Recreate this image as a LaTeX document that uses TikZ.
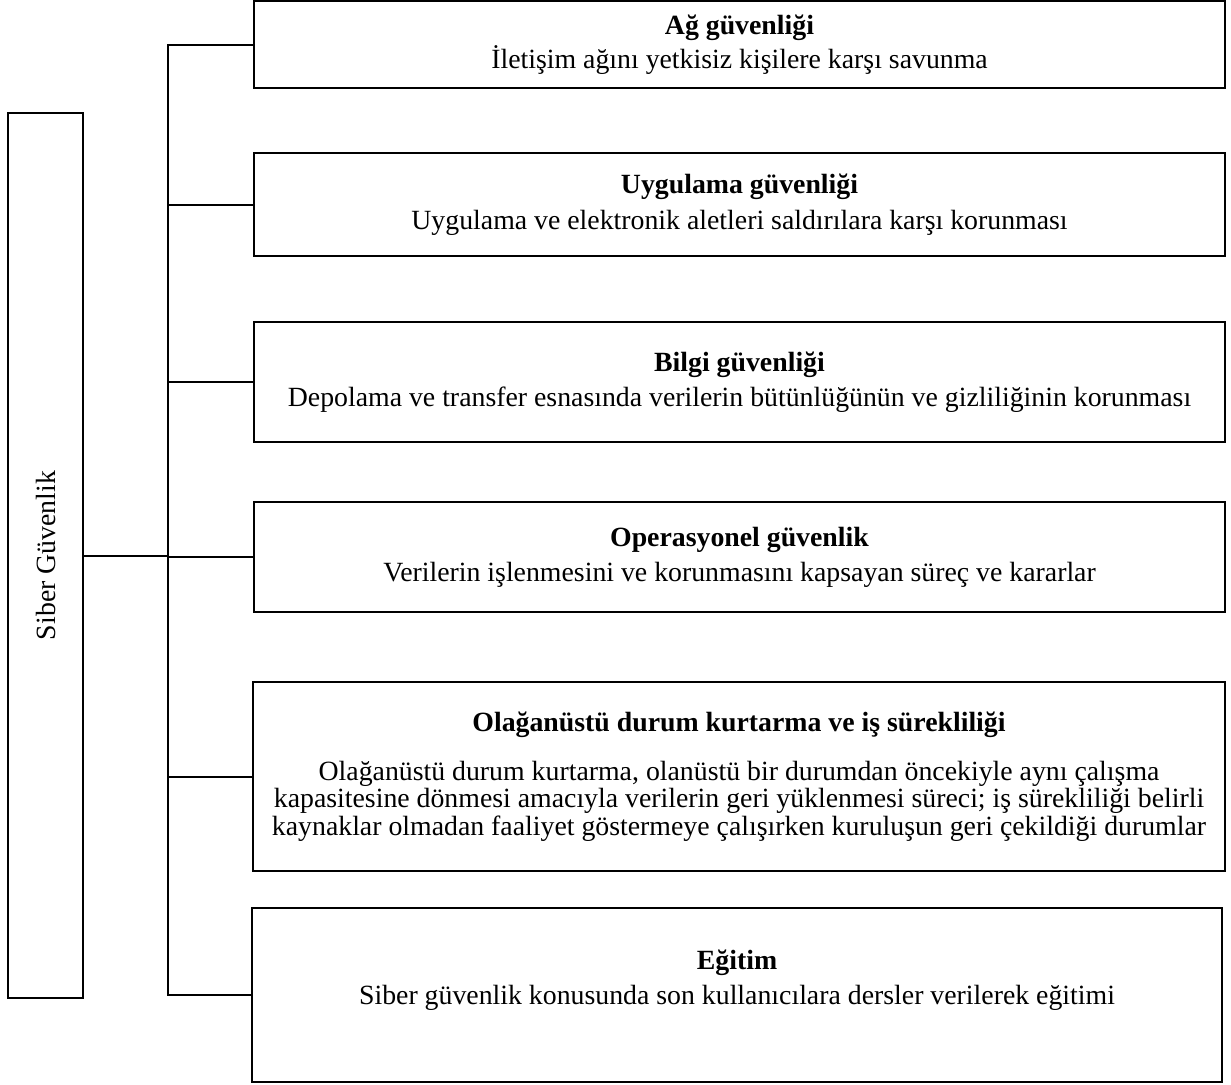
\documentclass[tikz,border=0pt]{standalone}
\usepackage{fontspec}
\setmainfont{Liberation Serif}
\usetikzlibrary{positioning}

\begin{document}
\begin{tikzpicture}[x=0.5pt,y=-0.5pt,
    kutu/.style={draw, line width=1pt, inner sep=0pt, align=center,
      minimum width=485.5pt, font=\fontsize{13.9}{13.8}\selectfont},
    baglanti/.style={line width=1pt}]
  \useasboundingbox (0,0) rectangle (1231,1084);
  % ana kutu
  \node[draw, line width=1pt, minimum width=37.5pt, minimum height=442.5pt] (siber) at (45.5,555.5) {};
  \node[rotate=90, font=\fontsize{13.9}{13.8}\selectfont] (siberyazi) at (siber.center) {Siber Güvenlik};
  % alt kutular
  \node[kutu, minimum height=43.5pt] (ag) at (739.5,44.5)
    {\textbf{Ağ güvenliği}\\[1.7pt] İletişim ağını yetkisiz kişilere karşı savunma};
  \node[kutu, minimum height=51.5pt] (uygulama) at (739.5,204.5)
    {\textbf{Uygulama güvenliği}\\[4.2pt] Uygulama ve elektronik aletleri saldırılara karşı korunması};
  \node[kutu, minimum height=60pt] (bilgi) at (739.5,382)
    {\textbf{Bilgi güvenliği}\\[3.7pt] Depolama ve transfer esnasında verilerin bütünlüğünün ve gizliliğinin korunması};
  \node[kutu, minimum height=55pt] (operasyonel) at (739.5,557)
    {\textbf{Operasyonel güvenlik}\\[3.7pt] Verilerin işlenmesini ve korunmasını kapsayan süreç ve kararlar};
  \node[kutu, minimum width=486pt, minimum height=94.5pt] (olaganustu) at (739,776.5)
    {\textbf{Olağanüstü durum kurtarma ve iş sürekliliği}\\[10.5pt]
     Olağanüstü durum kurtarma, olanüstü bir durumdan öncekiyle aynı çalışma\\
     kapasitesine dönmesi amacıyla verilerin geri yüklenmesi süreci; iş sürekliliği belirli\\
     kaynaklar olmadan faaliyet göstermeye çalışırken kuruluşun geri çekildiği durumlar};
  \node[kutu, minimum width=485pt, minimum height=87pt] (egitim) at (737,995)
    {\textbf{Eğitim}\\[3.7pt] Siber güvenlik konusunda son kullanıcılara dersler verilerek eğitimi\\[4pt]\mbox{}};
  % baglantilar
  \coordinate (govde) at (168,0);
  \draw[baglanti] (ag.west) -- (ag.west -| govde) -- (egitim.west -| govde) -- (egitim.west);
  \foreach \k in {uygulama,bilgi,operasyonel,olaganustu}
    \draw[baglanti] (\k.west) -- (\k.west -| govde);
  \draw[baglanti] (siber.east) -- (siber.east -| govde);
\end{tikzpicture}
\end{document}
